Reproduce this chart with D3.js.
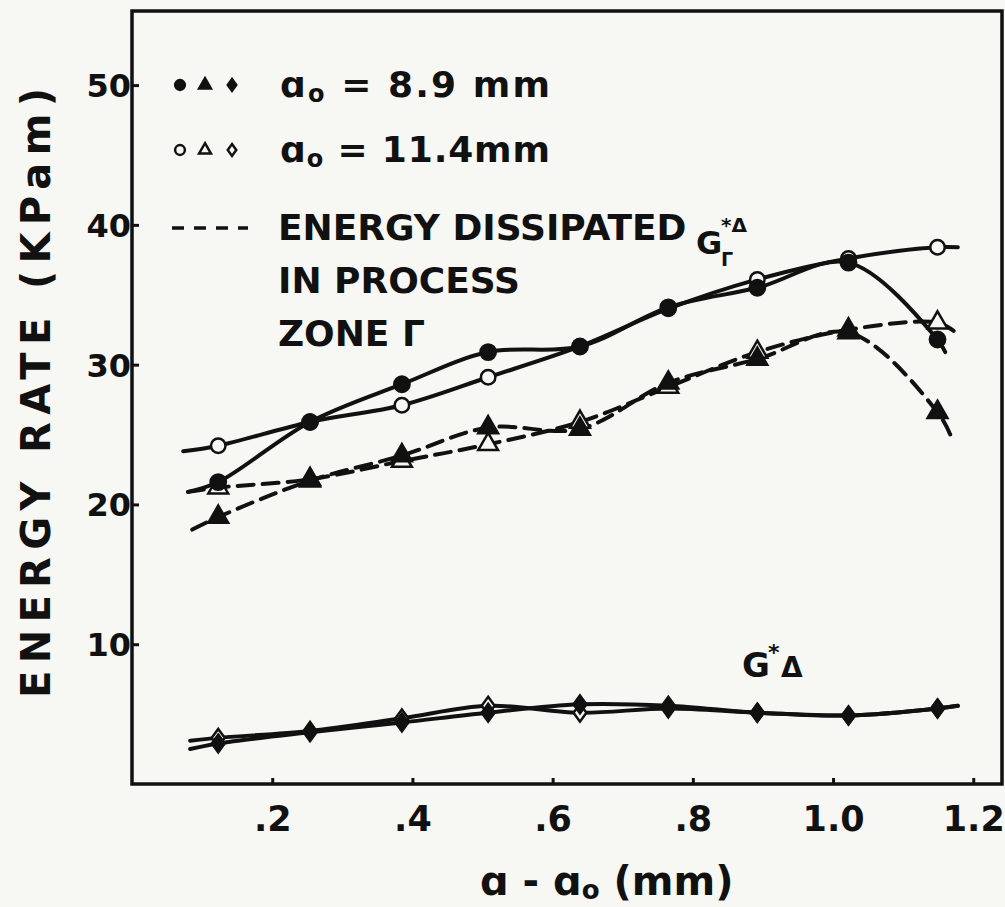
<!DOCTYPE html>
<html>
<head>
<meta charset="utf-8">
<script src="https://cdn.jsdelivr.net/npm/d3@7"></script>
<style>
  body { margin: 0; background: #f7f7f4; }
  svg { display: block; }
</style>
</head>
<body>
<svg id="chart" width="1005" height="907"></svg>
<script>
// Energierate ueber Risslaenge

// crack extension a - a0 (mm) where the points were measured
var crackExt = [0.123, 0.254, 0.385, 0.508, 0.639, 0.765, 0.892, 1.022, 1.149];

// G_Γ*Δ (solid curves)
var grA89 = [21.6, 25.9, 28.6, 30.9, 31.3, 34.1, 35.5, 37.3, 31.8];
var grA114 = [24.2, 25.9, 27.1, 29.1, 31.3, 34.0, 36.1, 37.6, 38.4];

// energy dissipated in process zone Γ (dashed curves)
var pzA89 = [19.1, 21.7, 23.5, 25.5, 25.4, 28.7, 30.4, 32.3, 26.6];
var pzA114 = [21.2, 21.8, 23.1, 24.3, 25.9, 28.4, 30.9, 32.5, 33.0];

// G*Δ (bottom curves)
var gA89 = [2.9, 3.7, 4.4, 5.1, 5.7, 5.6, 5.1, 4.9, 5.4];
var gA114 = [3.3, 3.8, 4.7, 5.6, 5.1, 5.4, 5.1, 4.9, 5.4];

// the hand drawn curves run a little past the first and last point [x, y]
var grA89Ends = [[0.080, 20.9], [1.160, 30.9]];
var grA114Ends = [[0.073, 23.8], [1.178, 38.4]];
var pzA89Ends = [[0.086, 18.2], [1.168, 24.9]];
var pzA114Ends = [[0.080, 20.9], [1.175, 32.3]];
var gA89Ends = [[0.083, 2.5], [1.178, 5.6]];
var gA114Ends = [[0.083, 3.1], [1.178, 5.6]];

var yTicks = [10, 20, 30, 40, 50];
var xTicks = [0.2, 0.4, 0.6, 0.8, 1.0, 1.2];
var xTickLabels = [".2", ".4", ".6", ".8", "1.0", "1.2"];

var ink = "#111";
var paper = "#f7f7f4";
var font = "'DejaVu Sans', sans-serif";

var svg = d3.select("#chart");

var x = d3.scaleLinear().domain([0, 1.241]).range([132, 1002]);
var y = d3.scaleLinear().domain([0, 55.3]).range([784, 11]);

// Rahmen
svg.append("rect")
    .attr("x", x(0))
    .attr("y", y(55.3))
    .attr("width", x(1.241) - x(0))
    .attr("height", y(0) - y(55.3))
    .attr("fill", "none")
    .attr("stroke", ink)
    .attr("stroke-width", 3.5);

// x-Achse
var xAxis = svg.append("g")
    .attr("transform", "translate(0," + y(0) + ")")
    .call(d3.axisBottom(x)
        .tickValues(xTicks)
        .tickSize(-6)
        .tickFormat(function (d, i) { return xTickLabels[i]; }));

xAxis.select(".domain").remove();
xAxis.selectAll("line").attr("stroke", ink).attr("stroke-width", 3);
xAxis.selectAll("text")
    .attr("y", 47)
    .attr("dy", 0)
    .attr("fill", ink)
    .attr("font-family", font)
    .attr("font-weight", "bold")
    .attr("font-size", "35px");

// y-Achse
var yAxis = svg.append("g")
    .attr("transform", "translate(" + x(0) + ",0)")
    .call(d3.axisLeft(y)
        .tickValues(yTicks)
        .tickSize(-7)
        .tickPadding(3));

yAxis.select(".domain").remove();
yAxis.selectAll("line").attr("stroke", ink).attr("stroke-width", 3);
yAxis.selectAll("text")
    .attr("x", -1)
    .attr("dy", "0.36em")
    .attr("fill", ink)
    .attr("font-family", font)
    .attr("font-weight", "bold")
    .attr("font-size", "32px");

// Achsentitel
svg.append("text")
    .attr("transform", "translate(50,393) rotate(-90)")
    .attr("text-anchor", "middle")
    .attr("font-family", font)
    .attr("font-weight", "bold")
    .attr("font-size", "40px")
    .attr("textLength", 610)
    .attr("lengthAdjust", "spacing")
    .attr("fill", ink)
    .text("ENERGY  RATE  (KPam)");

var xTitle = svg.append("text")
    .attr("x", 480)
    .attr("y", 895)
    .attr("font-family", font)
    .attr("font-weight", "bold")
    .attr("font-size", "40px")
    .attr("fill", ink);
xTitle.append("tspan").text("ɑ - ɑ");
xTitle.append("tspan").attr("font-size", "26px").attr("dy", 4).text("o");
xTitle.append("tspan").attr("dy", -4).text(" (mm)");

// Kurven
var line = d3.line()
    .x(function (d) { return x(d[0]); })
    .y(function (d) { return y(d[1]); })
    .curve(d3.curveCatmullRom.alpha(0.5));

function curvePoints(vals, ends) {
    return [ends[0]].concat(crackExt.map(function (c, i) { return [c, vals[i]]; })).concat([ends[1]]);
}

var curves = [
    { vals: gA114, ends: gA114Ends, dash: null },
    { vals: gA89, ends: gA89Ends, dash: null },
    { vals: pzA114, ends: pzA114Ends, dash: "16,9" },
    { vals: pzA89, ends: pzA89Ends, dash: "16,9" },
    { vals: grA114, ends: grA114Ends, dash: null },
    { vals: grA89, ends: grA89Ends, dash: null }
];

svg.selectAll(".curve")
    .data(curves)
    .enter().append("path")
    .attr("class", "curve")
    .attr("d", function (d) { return line(curvePoints(d.vals, d.ends)); })
    .attr("fill", "none")
    .attr("stroke", ink)
    .attr("stroke-width", 4)
    .attr("stroke-linecap", "round")
    .attr("stroke-dasharray", function (d) { return d.dash; });

// Symbole
var diamond = {
    draw: function (ctx, size) {
        var h = Math.sqrt(size) / 2;
        var w = h * 0.72;
        ctx.moveTo(0, -h);
        ctx.lineTo(w, 0);
        ctx.lineTo(0, h);
        ctx.lineTo(-w, 0);
        ctx.closePath();
    }
};

var markerSets = [
    { vals: gA114, type: diamond, size: 320, filled: false },
    { vals: gA89, type: diamond, size: 320, filled: true },
    { vals: pzA114, type: d3.symbolTriangle, size: 170, filled: false },
    { vals: pzA89, type: d3.symbolTriangle, size: 170, filled: true },
    { vals: grA114, type: d3.symbolCircle, size: 165, filled: false },
    { vals: grA89, type: d3.symbolCircle, size: 185, filled: true }
];

markerSets.forEach(function (m) {
    svg.append("g").selectAll("path")
        .data(m.vals)
        .enter().append("path")
        .attr("transform", function (d, i) { return "translate(" + x(crackExt[i]) + "," + y(d) + ")"; })
        .attr("d", d3.symbol().type(m.type).size(m.size))
        .attr("fill", m.filled ? ink : paper)
        .attr("stroke", ink)
        .attr("stroke-width", 2.5);
});

// Legende
var legend = svg.append("g").attr("transform", "translate(180,0)");

var legendRows = [
    { y: 85, filled: true, label: ["ɑ", "o", " = 8.9 mm"] },
    { y: 150, filled: false, label: ["ɑ", "o", " = 11.4mm"] }
];

legendRows.forEach(function (r) {
    var kinds = [
        { type: d3.symbolCircle, size: 75, dx: 0 },
        { type: d3.symbolTriangle, size: 60, dx: 25 },
        { type: diamond, size: 140, dx: 52 }
    ];
    legend.selectAll(null)
        .data(kinds)
        .enter().append("path")
        .attr("transform", function (k) { return "translate(" + k.dx + "," + r.y + ")"; })
        .attr("d", function (k) { return d3.symbol().type(k.type).size(k.size)(); })
        .attr("fill", r.filled ? ink : paper)
        .attr("stroke", ink)
        .attr("stroke-width", 2.5);

    var t = legend.append("text")
        .attr("x", 100)
        .attr("y", r.y + 12)
        .attr("font-family", font)
        .attr("font-weight", "bold")
        .attr("font-size", "36px")
        .attr("textLength", 270)
        .attr("lengthAdjust", "spacing")
        .attr("fill", ink);
    t.append("tspan").text(r.label[0]);
    t.append("tspan").attr("font-size", "24px").attr("dy", 5).text(r.label[1]);
    t.append("tspan").attr("dy", -5).text(r.label[2]);
});

legend.append("line")
    .attr("x1", -8)
    .attr("x2", 68)
    .attr("y1", 228)
    .attr("y2", 228)
    .attr("stroke", ink)
    .attr("stroke-width", 3.5)
    .attr("stroke-dasharray", "12,10");

var zoneLines = ["ENERGY DISSIPATED", "IN PROCESS", "ZONE Γ"];
legend.selectAll(".zone")
    .data(zoneLines)
    .enter().append("text")
    .attr("class", "zone")
    .attr("x", 98)
    .attr("y", function (d, i) { return 240 + i * 53; })
    .attr("font-family", font)
    .attr("font-weight", "bold")
    .attr("font-size", "36px")
    .attr("fill", ink)
    .text(function (d) { return d; });

// Kurvenbeschriftung
function label(txt, px, py, size) {
    svg.append("text")
        .attr("x", px)
        .attr("y", py)
        .attr("font-family", font)
        .attr("font-weight", "bold")
        .attr("font-size", size)
        .attr("fill", ink)
        .text(txt);
}

label("G", 696, 254, "32px");
label("*Δ", 721, 232, "20px");
label("Γ", 721, 266, "19px");

label("G", 742, 677, "34px");
label("*", 768, 660, "22px");
label("Δ", 781, 677, "28px");
</script>
</body>
</html>
